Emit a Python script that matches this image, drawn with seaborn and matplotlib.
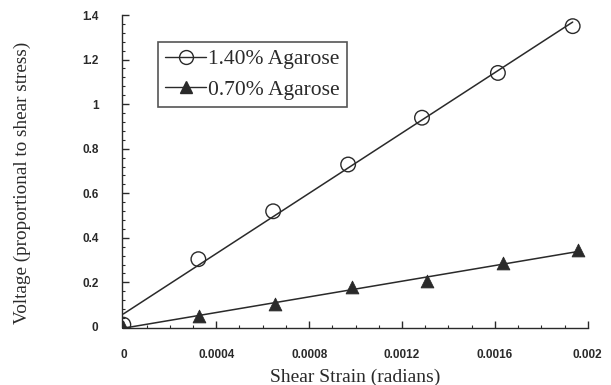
import numpy as np
import pandas as pd
import matplotlib
matplotlib.use("Agg")
import matplotlib.pyplot as plt
import seaborn as sns
from matplotlib.ticker import AutoMinorLocator, FixedLocator, FixedFormatter
from matplotlib.lines import Line2D

# Data
strain_hi = [0.0, 0.000323, 0.000645, 0.000968, 0.001286, 0.001613, 0.001935]
volt_hi = [0.01, 0.304, 0.519, 0.729, 0.939, 1.14, 1.35]
strain_lo = [0.0, 0.000327, 0.000654, 0.000985, 0.001308, 0.001634, 0.00196]
volt_lo = [0.0, 0.049, 0.103, 0.179, 0.206, 0.286, 0.344]

xticks = [0, 0.0004, 0.0008, 0.0012, 0.0016, 0.002]
xtick_labels = ["0", "0.0004", "0.0008", "0.0012", "0.0016", "0.002"]
yticks = [0, 0.2, 0.4, 0.6, 0.8, 1.0, 1.2, 1.4]
ytick_labels = ["0", "0.2", "0.4", "0.6", "0.8", "1", "1.2", "1.4"]

labels = ["1.40% Agarose", "0.70% Agarose"]

sns.set_theme(style="ticks")
plt.rcParams["font.family"] = ["Liberation Serif", "DejaVu Serif"]

fig = plt.figure(figsize=(6.11, 3.85), dpi=100)
ax = fig.add_axes([0.2, 0.148, 0.762, 0.813])

ink = "#2a2a2a"
df_hi = pd.DataFrame({"x": strain_hi, "y": volt_hi})
df_lo = pd.DataFrame({"x": strain_lo, "y": volt_lo})

sns.regplot(data=df_hi, x="x", y="y", ax=ax, ci=None, truncate=True, marker="o",
            scatter_kws=dict(s=110, facecolors="none", edgecolors=ink, linewidths=1.0, alpha=1),
            line_kws=dict(color=ink, lw=1.1))
sns.regplot(data=df_lo, x="x", y="y", ax=ax, ci=None, truncate=True, marker="^",
            scatter_kws=dict(s=85, color=ink, edgecolors=ink, linewidths=0.6, alpha=1),
            line_kws=dict(color=ink, lw=1.1))

ax.set_xlim(-0.000005, 0.002)
ax.set_ylim(-0.005, 1.4)

sns.despine(ax=ax)
for s in ["left", "bottom"]:
    ax.spines[s].set_color(ink)
    ax.spines[s].set_linewidth(1.0)
ax.spines["left"].set_bounds(0, 1.4)
ax.spines["bottom"].set_bounds(0, 0.002)

ax.xaxis.set_major_locator(FixedLocator(xticks))
ax.xaxis.set_major_formatter(FixedFormatter(xtick_labels))
ax.yaxis.set_major_locator(FixedLocator(yticks))
ax.yaxis.set_major_formatter(FixedFormatter(ytick_labels))
ax.xaxis.set_minor_locator(AutoMinorLocator(4))
ax.yaxis.set_minor_locator(AutoMinorLocator(5))
ax.tick_params(axis="both", which="major", direction="in", length=5, width=1, color=ink,
               labelsize=8.5, labelcolor=ink)
ax.tick_params(axis="both", which="minor", direction="in", length=2.5, width=0.8, color=ink)
ax.tick_params(axis="x", which="major", pad=15)
ax.tick_params(axis="y", which="major", pad=17)
for t in ax.get_xticklabels() + ax.get_yticklabels():
    t.set_family(["Liberation Sans", "DejaVu Sans"])
    t.set_fontweight("bold")

ax.set_xlabel("Shear Strain (radians)", fontsize=14, color=ink)
ax.set_ylabel("Voltage (proportional to shear stress)", fontsize=13.8, color=ink)
ax.xaxis.set_label_coords(0.5, -0.157)
ax.xaxis.label.set_verticalalignment("center")
ax.yaxis.set_label_coords(-0.215, 0.463)
ax.yaxis.label.set_verticalalignment("center")
ax.yaxis.label.set_horizontalalignment("center")

handles = [
    Line2D([], [], color=ink, lw=1.0, marker="o", markersize=10, markerfacecolor="none",
           markeredgecolor=ink),
    Line2D([], [], color=ink, lw=1.0, marker="^", markersize=9, markerfacecolor=ink,
           markeredgecolor=ink),
]
leg = ax.legend(handles, labels, loc="upper left", bbox_to_anchor=(0.077, 0.914),
                fontsize=15.5, frameon=True, fancybox=False, handlelength=1.9,
                handletextpad=0.1, borderpad=0.33, labelspacing=0.5, borderaxespad=0)
leg.get_frame().set_edgecolor(ink)
leg.get_frame().set_linewidth(1.2)
for t in leg.get_texts():
    t.set_color(ink)

fig.savefig("out.png", dpi=100, facecolor="white")
